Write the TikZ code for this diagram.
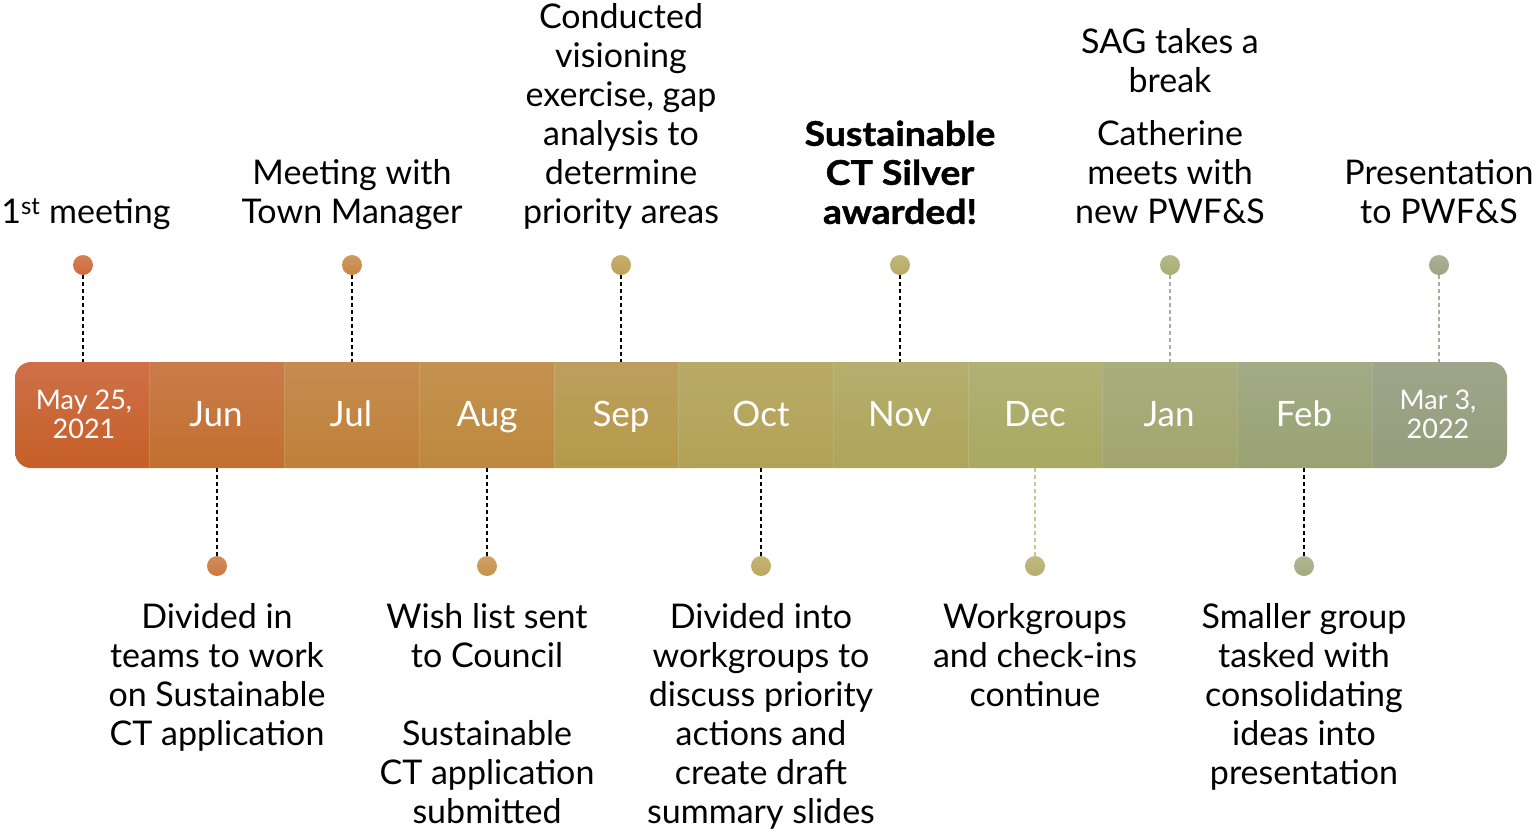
\documentclass[tikz,border=0pt]{standalone}
\usepackage{fontspec}
\setmainfont{Lato}
\definecolor{c1t}{HTML}{CE7048}\definecolor{c1b}{HTML}{C65F28}
\definecolor{c2t}{HTML}{C97C4A}\definecolor{c2b}{HTML}{C2702F}
\definecolor{c3t}{HTML}{C68B50}\definecolor{c3b}{HTML}{BF8139}
\definecolor{c4t}{HTML}{C4924F}\definecolor{c4b}{HTML}{BD893E}
\definecolor{c5t}{HTML}{BD9F5C}\definecolor{c5b}{HTML}{B59A4A}
\definecolor{c6t}{HTML}{B9AA68}\definecolor{c6b}{HTML}{B2A256}
\definecolor{c7t}{HTML}{B6AE6E}\definecolor{c7b}{HTML}{ADA55A}
\definecolor{c8t}{HTML}{B2B175}\definecolor{c8b}{HTML}{A9A962}
\definecolor{c9t}{HTML}{AAAE7E}\definecolor{c9b}{HTML}{A1A66C}
\definecolor{c10t}{HTML}{A3AA86}\definecolor{c10b}{HTML}{9AA273}
\definecolor{c11t}{HTML}{9FA58A}\definecolor{c11b}{HTML}{969D7C}
\definecolor{d1}{HTML}{CE6A3A}\definecolor{d2}{HTML}{CB7840}
\definecolor{d3}{HTML}{C98542}\definecolor{d4}{HTML}{C5914C}
\definecolor{d5}{HTML}{BFA055}\definecolor{d6}{HTML}{BBA75C}
\definecolor{d7}{HTML}{B5AB64}\definecolor{d8}{HTML}{B3AE6C}
\definecolor{d9}{HTML}{A8AD72}\definecolor{d10}{HTML}{A3AA80}
\definecolor{d11}{HTML}{9DA385}
\definecolor{greydash}{HTML}{A9AE9B}\definecolor{olivedash}{HTML}{C9C792}
\begin{document}
\begin{tikzpicture}[x=1pt,y=-1pt,
  monthlbl/.style={text=white,inner sep=0pt,font=\fontsize{35}{35}\selectfont},
  datelbl/.style={text=white,inner sep=0pt,align=center,font=\fontsize{27}{29}\selectfont},
  dot/.style={circle,minimum size=20pt,inner sep=0pt},
  toptext/.style={anchor=south,inner sep=0pt,align=center,font=\fontsize{34}{39}\selectfont},
  bottext/.style={anchor=north,inner sep=0pt,align=center,font=\fontsize{34}{39}\selectfont},
  conn/.style={dash pattern=on 4pt off 3pt,line width=1.2pt},
]
\useasboundingbox (0,0) rectangle (1532,831);
% bar
\begin{scope}
\clip[rounded corners=16pt] (15,362) rectangle (1507,468);
\foreach \a/\b/\c in {15/149/1,149/284/2,284/419/3,419/554/4,554/678/5,678/833/6,833/968/7,968/1102/8,1102/1237/9,1237/1372/10,1372/1507/11}{
  \shade[top color=c\c t,bottom color=c\c b] (\a,362) rectangle (\b,468);
}
\foreach \a in {149,284,419,554,678,833,968,1102,1237,1372}{
  \draw[white,opacity=0.12,line width=0.8pt] (\a,362) -- (\a,468);
}
\end{scope}
\coordinate (bartop) at (0,362);
\coordinate (barbot) at (0,468);
% month labels
\node[datelbl] (m1) at (84,414) {May 25,\\2021};
\node[monthlbl,anchor=base] (m2) at (216,426) {Jun};
\node[monthlbl,anchor=base] (m3) at (351,426) {Jul};
\node[monthlbl,anchor=base] (m4) at (487,426) {Aug};
\node[monthlbl,anchor=base] (m5) at (621,426) {Sep};
\node[monthlbl,anchor=base] (m6) at (761,426) {Oct};
\node[monthlbl,anchor=base] (m7) at (900,426) {Nov};
\node[monthlbl,anchor=base] (m8) at (1035,426) {Dec};
\node[monthlbl,anchor=base] (m9) at (1169,426) {Jan};
\node[monthlbl,anchor=base] (m10) at (1304,426) {Feb};
\node[datelbl] (m11) at (1438,414) {Mar 3,\\2022};
% dots
\node[dot,top color=d1!85!white,bottom color=d1] (t1) at (83,265) {};
\node[dot,top color=d3!85!white,bottom color=d3] (t2) at (352,265) {};
\node[dot,top color=d5!85!white,bottom color=d5] (t3) at (621,265) {};
\node[dot,top color=d7!85!white,bottom color=d7] (t4) at (900,265) {};
\node[dot,top color=d9!85!white,bottom color=d9] (t5) at (1170,265) {};
\node[dot,top color=d11!85!white,bottom color=d11] (t6) at (1439,265) {};
\node[dot,top color=d2!85!white,bottom color=d2] (b1) at (217,566) {};
\node[dot,top color=d4!85!white,bottom color=d4] (b2) at (487,566) {};
\node[dot,top color=d6!85!white,bottom color=d6] (b3) at (761,566) {};
\node[dot,top color=d8!85!white,bottom color=d8] (b4) at (1035,566) {};
\node[dot,top color=d10!85!white,bottom color=d10] (b5) at (1304,566) {};
% connectors
\draw[conn] (t1.south) -- (t1 |- bartop);
\draw[conn] (t2.south) -- (t2 |- bartop);
\draw[conn] (t3.south) -- (t3 |- bartop);
\draw[conn] (t4.south) -- (t4 |- bartop);
\draw[conn,greydash] (t5.south) -- (t5 |- bartop);
\draw[conn,greydash] (t6.south) -- (t6 |- bartop);
\draw[conn] (b1.north) -- (b1 |- barbot);
\draw[conn] (b2.north) -- (b2 |- barbot);
\draw[conn] (b3.north) -- (b3 |- barbot);
\draw[conn,olivedash] (b4.north) -- (b4 |- barbot);
\draw[conn] (b5.north) -- (b5 |- barbot);
% top texts
\node[toptext] (x1) at (86,235.7) {1\textsuperscript{st} meeting\strut};
\node[toptext] (x2) at (352,235.7) {Meeting with\\Town Manager\strut};
\node[toptext] (x3) at (621,235.7) {Conducted\\visioning\\exercise, gap\\analysis to\\determine\\priority areas\strut};
\node[toptext,font=\fontsize{34}{39}\selectfont\bfseries\addfontfeatures{FakeStretch=1.1,FakeBold=1.2}] (x4) at (900,235.7) {Sustainable\\CT Silver\\awarded!\strut};
\node[toptext] (x5a) at (1170,104.7) {SAG takes a\\break\strut};
\node[toptext] (x5) at (1170,235.7) {Catherine\\meets with\\new PWF\&S\strut};
\node[toptext] (x6) at (1439,235.7) {Presentation\\to PWF\&S\strut};
% bottom texts
\node[bottext] (y1) at (217,600.7) {\strut Divided in\\teams to work\\on Sustainable\\CT application};
\node[bottext] (y2) at (487,600.7) {\strut Wish list sent\\to Council\\\strut\\Sustainable\\CT application\\submitted};
\node[bottext] (y3) at (761,600.7) {\strut Divided into\\workgroups to\\discuss priority\\actions and\\create draft\\summary slides};
\node[bottext] (y4) at (1035,600.7) {\strut Workgroups\\and check-ins\\continue};
\node[bottext] (y5) at (1304,600.7) {\strut Smaller group\\tasked with\\consolidating\\ideas into\\presentation};
\end{tikzpicture}
\end{document}
